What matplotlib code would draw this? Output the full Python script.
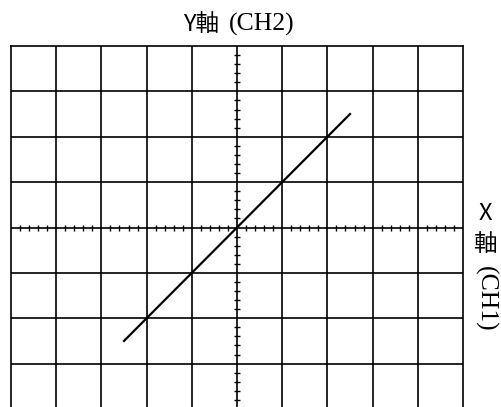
import numpy as np
import matplotlib
matplotlib.use("Agg")
import matplotlib.pyplot as plt

# screen divisions (oscilloscope graticule)
x_divs = 10
y_divs = 8
sub_per_div = 5

# trace: X-Y mode, CH1 vs CH2 in phase
trace_x = [-2.5, 2.5]
trace_y = [-2.5, 2.5]

title_left = "Y軸"
title_right = "(CH2)"
side_labels = ["X", "軸"]
side_rot = "(CH1)"

cjk = ["Noto Sans CJK JP", "DejaVu Sans"]
serif = ["Liberation Serif", "DejaVu Serif"]

fig = plt.figure(figsize=(5.01, 4.07), dpi=100)
ax = fig.add_axes([11 / 501, -2 / 407, 452 / 501, 363 / 407])

hx = x_divs / 2
hy = y_divs / 2
ax.set_xlim(-hx, hx)
ax.set_ylim(-hy, hy)

# major grid
for gx in np.arange(-hx + 1, hx):
    ax.axvline(gx, color="black", lw=1.2)
for gy in np.arange(-hy + 1, hy):
    ax.axhline(gy, color="black", lw=1.2)
for sp in ax.spines.values():
    sp.set_linewidth(1.2)

# sub-division marks on the centre lines
mx = np.arange(-hx, hx + 1e-9, 1 / sub_per_div)
mx = mx[np.abs(mx - np.round(mx)) > 1e-6]
my = np.arange(-hy, hy + 1e-9, 1 / sub_per_div)
my = my[np.abs(my - np.round(my)) > 1e-6]
ax.plot(mx, np.zeros_like(mx), ls="none", marker="|", ms=5, mew=1.0, color="black")
ax.plot(np.zeros_like(my), my, ls="none", marker="_", ms=5, mew=1.0, color="black")

ax.plot(trace_x, trace_y, color="black", lw=1.6)

ax.set_xticks([])
ax.set_yticks([])

# title
fig.text(219 / 501, 1 - 31 / 407, title_left, family=cjk, fontsize=17,
         ha="right", va="baseline")
fig.text(229 / 501, 1 - 31 / 407, title_right, family=serif, fontsize=18.5,
         ha="left", va="baseline")

# side label
fig.text(485 / 501, 1 - 214 / 407, side_labels[0], family=cjk, fontsize=17,
         ha="center", va="center")
fig.text(485 / 501, 1 - 244 / 407, side_labels[1], family=cjk, fontsize=17,
         ha="center", va="center")
fig.text(485 / 501, 1 - 299 / 407, side_rot, family=serif, fontsize=18.5,
         ha="center", va="center", rotation=-90)

fig.savefig("out.png", dpi=100)
